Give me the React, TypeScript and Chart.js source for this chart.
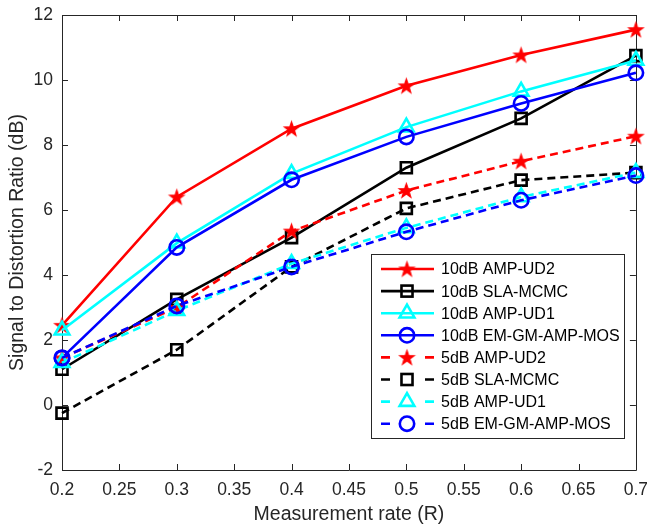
import React, { useEffect, useRef } from "react";
import { Chart, registerables } from "chart.js";

Chart.register(...registerables);

// ---- data ----
const xValues = [0.2, 0.3, 0.4, 0.5, 0.6, 0.7];
const xTicks = [0.2, 0.25, 0.3, 0.35, 0.4, 0.45, 0.5, 0.55, 0.6, 0.65, 0.7];
const yTicks = [-2, 0, 2, 4, 6, 8, 10, 12];
const seriesNames = [
  "10dB AMP-UD2",
  "10dB SLA-MCMC",
  "10dB AMP-UD1",
  "10dB EM-GM-AMP-MOS",
  "5dB AMP-UD2",
  "5dB SLA-MCMC",
  "5dB AMP-UD1",
  "5dB EM-GM-AMP-MOS",
];
const ampUd2_10 = [2.45, 6.4, 8.5, 9.82, 10.77, 11.55];
const sla_10 = [1.1, 3.25, 5.15, 7.3, 8.82, 10.75];
const ampUd1_10 = [2.3, 4.98, 7.12, 8.55, 9.65, 10.6];
const em_10 = [1.45, 4.85, 6.93, 8.25, 9.28, 10.22];
const ampUd2_5 = [1.45, 3.0, 5.35, 6.6, 7.5, 8.27];
const sla_5 = [-0.25, 1.7, 4.25, 6.05, 6.92, 7.15];
const ampUd1_5 = [1.3, 2.9, 4.35, 5.45, 6.4, 7.15];
const em_5 = [1.45, 3.05, 4.25, 5.33, 6.3, 7.06];
const seriesValues = [ampUd2_10, sla_10, ampUd1_10, em_10, ampUd2_5, sla_5, ampUd1_5, em_5];
const seriesColors = ["#ff0000", "#000000", "#00ffff", "#0000ff", "#ff0000", "#000000", "#00ffff", "#0000ff"];
const seriesMarkers = ["star", "rect", "triangle", "circle", "star", "rect", "triangle", "circle"];
const seriesDashed = [false, false, false, false, true, true, true, true];

const FONT = "'Liberation Sans', Arial, Helvetica, sans-serif";
const AXIS_COLOR = "#262626";

function makeStar(color: string, R: number): HTMLCanvasElement {
  const size = Math.ceil(R * 2 + 4);
  const c = document.createElement("canvas");
  c.width = size;
  c.height = size;
  const g = c.getContext("2d")!;
  const cx = size / 2;
  const cy = size / 2 + R * 0.08;
  g.beginPath();
  for (let k = 0; k < 10; k++) {
    const rr = k % 2 === 0 ? R : R * 0.4;
    const a = -Math.PI / 2 + (k * Math.PI) / 5;
    g.lineTo(cx + rr * Math.cos(a), cy + rr * Math.sin(a));
  }
  g.closePath();
  g.fillStyle = color;
  g.fill();
  g.strokeStyle = color;
  g.lineWidth = 1.2;
  g.lineJoin = "miter";
  g.stroke();
  return c;
}

const markerRadius: Record<string, number> = { star: 7.5, rect: 7.8, triangle: 8.5, circle: 7.2 };

function drawMarker(ctx: CanvasRenderingContext2D, style: string, x: number, y: number, color: string, star: HTMLCanvasElement) {
  const r = markerRadius[style];
  ctx.save();
  ctx.strokeStyle = color;
  ctx.lineWidth = 2.6;
  ctx.setLineDash([]);
  if (style === "star") {
    ctx.drawImage(star, x - star.width / 2, y - star.height / 2);
  } else if (style === "rect") {
    const s = Math.SQRT1_2 * r;
    ctx.strokeRect(x - s, y - s, 2 * s, 2 * s);
  } else if (style === "triangle") {
    ctx.beginPath();
    let a = 0;
    for (let k = 0; k < 3; k++) {
      ctx.lineTo(x + Math.sin(a) * r, y - Math.cos(a) * r);
      a += (2 * Math.PI) / 3;
    }
    ctx.closePath();
    ctx.stroke();
  } else {
    ctx.beginPath();
    ctx.arc(x, y, r, 0, Math.PI * 2);
    ctx.stroke();
  }
  ctx.restore();
}

export default function App() {
  const ref = useRef<HTMLCanvasElement | null>(null);

  useEffect(() => {
    document.body.style.margin = "0";
    const canvas = ref.current!;
    const starImg = makeStar("#ff0000", 7.5);

    const boxPlugin = {
      id: "matlabBox",
      beforeDatasetsDraw(chart: any) {
        const { ctx, chartArea } = chart;
        const { left, right, top, bottom } = chartArea;
        const xs = chart.scales.x;
        const ys = chart.scales.y;
        ctx.save();
        ctx.strokeStyle = AXIS_COLOR;
        ctx.lineWidth = 1;
        ctx.beginPath();
        ctx.rect(Math.round(left) + 0.5, Math.round(top) + 0.5, Math.round(right - left), Math.round(bottom - top));
        ctx.stroke();
        const tl = 6;
        ctx.beginPath();
        xTicks.forEach((v) => {
          const px = Math.round(xs.getPixelForValue(v)) + 0.5;
          ctx.moveTo(px, bottom);
          ctx.lineTo(px, bottom - tl);
          ctx.moveTo(px, top);
          ctx.lineTo(px, top + tl);
        });
        yTicks.forEach((v) => {
          const py = Math.round(ys.getPixelForValue(v)) + 0.5;
          ctx.moveTo(left, py);
          ctx.lineTo(left + tl, py);
          ctx.moveTo(right, py);
          ctx.lineTo(right - tl, py);
        });
        ctx.stroke();
        ctx.restore();
      },
    };

    const legendPlugin = {
      id: "boxLegend",
      afterDraw(chart: any) {
        const { ctx, chartArea } = chart;
        const w = 253;
        const h = 184;
        const x0 = Math.round(chartArea.right - 12 - w);
        const y0 = Math.round(chartArea.bottom - 32 - h);
        ctx.save();
        ctx.fillStyle = "#ffffff";
        ctx.fillRect(x0, y0, w, h);
        ctx.strokeStyle = AXIS_COLOR;
        ctx.lineWidth = 1;
        ctx.strokeRect(x0 + 0.5, y0 + 0.5, w, h);
        const rowH = 22.1;
        seriesNames.forEach((name, i) => {
          const y = y0 + 15 + i * rowH;
          const color = seriesColors[i];
          const lx1 = x0 + 10;
          const lx2 = x0 + 63;
          const mx = x0 + 36;
          ctx.strokeStyle = color;
          ctx.lineWidth = 2.6;
          ctx.setLineDash([]);
          ctx.beginPath();
          if (seriesDashed[i]) {
            ctx.moveTo(lx1, y);
            ctx.lineTo(lx1 + 9, y);
            ctx.moveTo(lx2 - 9, y);
            ctx.lineTo(lx2, y);
          } else {
            ctx.moveTo(lx1, y);
            ctx.lineTo(lx2, y);
          }
          ctx.stroke();
          drawMarker(ctx, seriesMarkers[i], mx, y, color, starImg);
          ctx.fillStyle = "#000000";
          ctx.font = `16px ${FONT}`;
          ctx.textBaseline = "middle";
          ctx.textAlign = "left";
          ctx.fillText(name, x0 + 70, y + 1);
        });
        ctx.restore();
      },
    };

    const datasets = seriesNames.map((name, i) => ({
      label: name,
      data: xValues.map((x, j) => ({ x, y: seriesValues[i][j] })),
      borderColor: seriesColors[i],
      backgroundColor: seriesColors[i],
      borderWidth: 2.6,
      borderDash: seriesDashed[i] ? [8, 5] : [],
      pointStyle: seriesMarkers[i] === "star" ? starImg : seriesMarkers[i],
      pointRadius: markerRadius[seriesMarkers[i]],
      pointBorderWidth: 2.6,
      pointBorderColor: seriesColors[i],
      pointBackgroundColor: "rgba(0,0,0,0)",
      tension: 0,
      fill: false,
      clip: false as any,
      order: -i,
    }));

    const chart = new Chart(canvas, {
      type: "line",
      data: { datasets: datasets as any },
      options: {
        responsive: false,
        animation: false,
        devicePixelRatio: 1,
        layout: { padding: { top: 15, right: 10, left: 0, bottom: 0 } },
        plugins: { legend: { display: false }, tooltip: { enabled: false } },
        elements: { line: { borderCapStyle: "butt" } },
        scales: {
          x: {
            type: "linear",
            min: 0.2,
            max: 0.7,
            grid: { display: false, drawTicks: false },
            border: { display: false },
            afterBuildTicks: (scale: any) => {
              scale.ticks = xTicks.map((v) => ({ value: v }));
            },
            afterFit: (scale: any) => {
              scale.height = 57;
              scale.paddingLeft = 0;
              scale.paddingRight = 0;
            },
            ticks: {
              color: AXIS_COLOR,
              font: { family: FONT, size: 17.5 },
              padding: 10,
              maxRotation: 0,
              autoSkip: false,
              callback: (v: any) => String(Number(v)),
            },
            title: {
              display: true,
              text: "Measurement rate (R)",
              color: AXIS_COLOR,
              font: { family: FONT, size: 19.5 },
              padding: { top: 0, bottom: 1 },
            },
          },
          y: {
            type: "linear",
            min: -2,
            max: 12,
            grid: { display: false, drawTicks: false },
            border: { display: false },
            afterBuildTicks: (scale: any) => {
              scale.ticks = yTicks.map((v) => ({ value: v }));
            },
            afterFit: (scale: any) => {
              scale.width = 62;
              scale.paddingTop = 0;
              scale.paddingBottom = 0;
            },
            ticks: {
              color: AXIS_COLOR,
              font: { family: FONT, size: 17.5 },
              padding: 9,
              autoSkip: false,
              callback: (v: any) => String(Number(v)),
            },
            title: {
              display: true,
              text: "Signal to Distortion Ratio (dB)",
              color: AXIS_COLOR,
              font: { family: FONT, size: 19.5 },
              padding: { top: 6, bottom: 0 },
            },
          },
        },
      },
      plugins: [boxPlugin, legendPlugin],
    });

    return () => {
      chart.destroy();
    };
  }, []);

  return (
    <div style={{ width: 647, height: 527 }}>
      <canvas ref={ref} width={647} height={527} style={{ display: "block", width: 647, height: 527 }} />
    </div>
  );
}
